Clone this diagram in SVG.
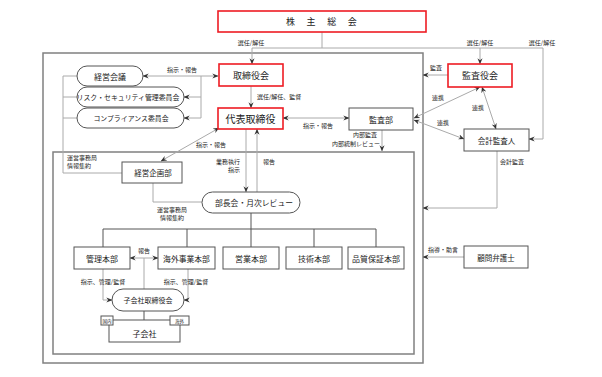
<svg xmlns="http://www.w3.org/2000/svg" width="602" height="377" viewBox="0 0 602 377">
<defs>
<marker id="ah" viewBox="0 0 8 8" refX="7.6" refY="4" markerWidth="6" markerHeight="6" orient="auto-start-reverse" markerUnits="userSpaceOnUse"><path d="M0,0.6 L8,4 L0,7.4 L2.6,4 z" fill="#333"/></marker>
<style>
text{font-family:"Noto Sans CJK JP","Noto Sans",sans-serif;fill:#222}
.box{fill:#fff;stroke:#555;stroke-width:1}
.red{fill:#fff;stroke:#ee1c24;stroke-width:1.6}
.frame{fill:none;stroke:#808080;stroke-width:1.5}
.c{fill:none;stroke:#aaa;stroke-width:1}
.t{fill:none;stroke:#555;stroke-width:1}
.a{marker-end:url(#ah)}
.d{marker-start:url(#ah);marker-end:url(#ah)}
.lbl{font-size:6px}
.m{text-anchor:middle}
.e{text-anchor:end}
.n{text-anchor:middle;dominant-baseline:central}
</style>
</defs>
<rect width="602" height="377" fill="#fff"/>
<g id="frames">
<rect class="frame" x="43" y="53" width="380" height="310"/>
<rect class="frame" x="53" y="152" width="361" height="202"/>
</g>
<g id="connectors">
<path class="c a" d="M322,32 V48 H252 V64"/>
<path class="c" d="M322,48 H543"/>
<path class="c a" d="M480,48 V64"/>
<path class="c a" d="M543,48 V139 H529"/>
<path class="c a" d="M251,86 V108"/>
<path class="c d" d="M143,76 H218"/>
<path class="c" d="M201,76 V118"/>
<path class="c a" d="M201,97 H184"/>
<path class="c a" d="M201,118 H184"/>
<path class="c" d="M77,76 H63 V173 H122 M63,97 H77 M63,118 H77"/>
<path class="c d" d="M283,118 H349"/>
<path class="c a" d="M382,130 V151"/>
<path class="c a" d="M448,75 H423"/>
<path class="c d" d="M480,87 L414,118"/>
<path class="c d" d="M482,87 L496,129"/>
<path class="c d" d="M414,120 L464,139"/>
<path class="c a" d="M497,151 V208 H423"/>
<path class="c a" d="M464,257 H423"/>
<path class="c d" d="M219,128 L161,161"/>
<path class="c a" d="M246,129 V192"/>
<path class="c a" d="M257,192 V129"/>
<path class="c" d="M153,183 V202 H202"/>
<path class="t" d="M251,213 V229 M103,229 H376 M103,229 V247 M187,229 V247 M251,229 V247 M314,229 V247 M376,229 V247"/>
<path class="c d" d="M130,258 H158"/>
<path class="c" d="M144,258 V289"/>
<path class="c a" d="M103,269 V300 H112"/>
<path class="c a" d="M188,269 V300 H184"/>
<path class="t" d="M144,311 V320"/>
<text class="lbl m" x="251" y="45">選任/解任</text>
<text class="lbl m" x="480" y="45">選任/解任</text>
<text class="lbl m" x="542" y="45">選任/解任</text>
<text class="lbl" x="257" y="99">選任/解任、監督</text>
<text class="lbl m" x="182" y="72">指示・報告</text>
<text class="lbl" x="67" y="160">運営事務局</text>
<text class="lbl" x="67" y="168">情報集約</text>
<text class="lbl m" x="318" y="128">指示・報告</text>
<text class="lbl m" x="365" y="137">内部監査</text>
<text class="lbl e" x="380" y="146">内部統制レビュー</text>
<text class="lbl m" x="436" y="70">監査</text>
<text class="lbl m" x="438" y="100">連携</text>
<text class="lbl m" x="478" y="110">連携</text>
<text class="lbl m" x="443" y="125">連携</text>
<text class="lbl m" x="512" y="164">会計監査</text>
<text class="lbl m" x="443" y="252">指導・助言</text>
<text class="lbl m" x="211" y="147">指示・報告</text>
<text class="lbl e" x="240" y="164">業務執行</text>
<text class="lbl e" x="240" y="172">指示</text>
<text class="lbl" x="263" y="164">報告</text>
<text class="lbl m" x="172" y="212">運営事務局</text>
<text class="lbl m" x="172" y="220">情報集約</text>
<text class="lbl m" x="144" y="253">報告</text>
<text class="lbl m" x="103" y="284">指示、管理/監督</text>
<text class="lbl m" x="186" y="284">指示、管理/監督</text>
</g>
<g id="kabunushi"><rect class="red" x="218" y="11" width="208" height="21"/><text class="n" x="322" y="21.5" font-size="9" letter-spacing="1.3">株　主　総　会</text></g>
<g id="torishimariyakukai"><rect class="red" x="219" y="64" width="64" height="22"/><text class="n" x="251" y="75" font-size="9">取締役会</text></g>
<g id="daihyo"><rect class="red" x="218" y="108" width="65" height="21"/><text class="n" x="250.5" y="118.5" font-size="10">代表取締役</text></g>
<g id="kansayakukai"><rect class="red" x="448" y="64" width="64" height="23"/><text class="n" x="480" y="75.5" font-size="9">監査役会</text></g>
<g id="kansabu"><rect class="box" x="349" y="108" width="64" height="22"/><text class="n" x="381" y="119" font-size="8">監査部</text></g>
<g id="kaikei"><rect class="box" x="464" y="129" width="65" height="22"/><text class="n" x="496.5" y="140" font-size="7.5">会計監査人</text></g>
<g id="komon"><rect class="box" x="464" y="246" width="64" height="22"/><text class="n" x="496" y="257" font-size="7.5">顧問弁護士</text></g>
<g id="keieikaigi"><rect class="box" x="77" y="66" width="66" height="20" rx="10"/><text class="n" x="110" y="76" font-size="8">経営会議</text></g>
<g id="risk"><rect class="box" x="77" y="87" width="107" height="20" rx="10"/><text class="n" x="128" y="97" font-size="6.9">リスク・セキュリティ管理委員会</text></g>
<g id="compliance"><rect class="box" x="77" y="108" width="107" height="20" rx="10"/><text class="n" x="131" y="118" font-size="6.9">コンプライアンス委員会</text></g>
<g id="keieikikaku"><rect class="box" x="122" y="162" width="60" height="21"/><text class="n" x="153" y="172.5" font-size="7.5">経営企画部</text></g>
<g id="buchokai"><rect class="box" x="202" y="192" width="98" height="21" rx="10.5"/><text class="n" x="254" y="202.5" font-size="7.8">部長会・月次レビュー</text></g>
<g id="kanri"><rect class="box" x="74" y="247" width="56" height="22"/><text class="n" x="102" y="258" font-size="8">管理本部</text></g>
<g id="kaigai"><rect class="box" x="158" y="247" width="57" height="22"/><text class="n" x="186.5" y="258" font-size="7.8">海外事業本部</text></g>
<g id="eigyo"><rect class="box" x="223" y="247" width="56" height="22"/><text class="n" x="251" y="258" font-size="8">営業本部</text></g>
<g id="gijutsu"><rect class="box" x="286" y="247" width="56" height="22"/><text class="n" x="314" y="258" font-size="8">技術本部</text></g>
<g id="hinshitsu"><rect class="box" x="348" y="247" width="56" height="22"/><text class="n" x="376" y="258" font-size="8">品質保証本部</text></g>
<g id="kogaishatori"><rect class="box" x="112" y="289" width="72" height="22" rx="11"/><text class="n" x="148" y="300" font-size="7">子会社取締役会</text></g>
<g id="kogaisha"><rect class="box" x="109" y="320" width="71" height="22"/><text class="n" x="144.5" y="333" font-size="8">子会社</text>
<rect class="box" x="101" y="316" width="12" height="9"/><text class="n" x="107" y="320.5" font-size="4.5">国内</text>
<rect class="box" x="170" y="316" width="19" height="9"/><text class="n" x="179.5" y="320.5" font-size="4.5">海外</text></g>
</svg>
